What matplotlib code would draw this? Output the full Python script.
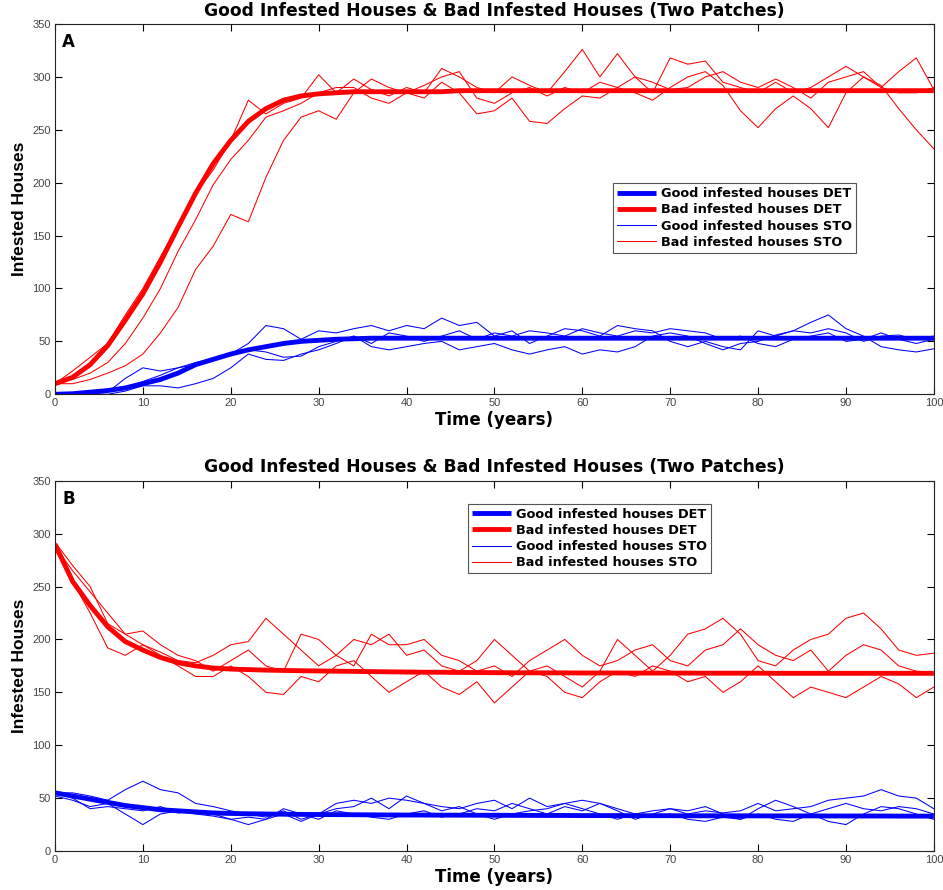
import numpy as np
import matplotlib
matplotlib.use("Agg")
import matplotlib.pyplot as plt

# time grid of the read-off points (years)
t = list(range(0, 101, 2))

# ---- Panel A ----
a_good_det = [0, 0.5, 2, 3.5, 6, 10, 14, 20, 28, 33, 38, 42, 45, 48, 50, 51, 52, 52.5, 53, 53, 53,
              53, 53, 53, 53, 53, 53, 53, 53, 53, 53, 53, 53, 53, 53, 53, 53, 53, 53, 53, 53,
              53, 53, 53, 53, 53, 53, 53, 53, 53, 53]
a_bad_det = [10, 16, 28, 46, 70, 95, 125, 158, 190, 218, 240, 258, 270, 278, 282, 284, 285, 286, 286, 286, 286,
             286, 286, 287, 287, 287, 287, 287, 287, 287, 287, 287, 287, 287, 287, 287, 287, 287, 287, 287, 287,
             287, 287, 287, 287, 287, 287, 287, 287, 287, 287]
a_good_sto = [
    [0, 0, 0, 2, 15, 25, 22, 25, 28, 32, 38, 48, 65, 62, 52, 60, 58, 62, 65, 60, 65,
     62, 72, 65, 68, 55, 60, 48, 55, 62, 60, 55, 65, 62, 60, 50, 45, 50, 45, 42, 60,
     55, 60, 68, 75, 62, 55, 45, 42, 40, 43],
    [0, 0, 0, 0, 3, 8, 8, 6, 10, 15, 25, 38, 33, 32, 38, 42, 48, 55, 45, 42, 45,
     48, 50, 42, 45, 48, 42, 38, 42, 45, 38, 42, 40, 45, 55, 58, 55, 48, 42, 48, 50,
     56, 60, 58, 62, 58, 50, 55, 56, 52, 55],
    [0, 0, 1, 3, 7, 12, 18, 25, 30, 33, 38, 42, 40, 35, 36, 45, 50, 55, 48, 58, 55,
     50, 55, 60, 52, 58, 55, 60, 58, 55, 62, 58, 55, 60, 58, 62, 60, 58, 52, 55, 48,
     45, 52, 55, 58, 50, 52, 58, 52, 48, 52],
]
a_bad_sto = [
    [10, 22, 35, 48, 75, 100, 130, 160, 190, 212, 240, 278, 265, 275, 280, 302, 285, 298, 288, 282, 290,
     285, 308, 300, 290, 285, 300, 292, 285, 305, 326, 300, 322, 300, 285, 318, 312, 315, 295, 290, 285,
     295, 285, 290, 300, 310, 300, 290, 305, 318, 288],
    [10, 14, 20, 30, 48, 72, 100, 135, 165, 198, 222, 240, 262, 268, 275, 285, 290, 290, 280, 275, 285,
     280, 295, 285, 265, 268, 280, 258, 256, 270, 282, 280, 290, 285, 278, 290, 300, 305, 292, 268, 252,
     270, 282, 270, 252, 285, 300, 292, 270, 250, 232],
    [10, 10, 14, 20, 27, 38, 58, 82, 118, 140, 170, 163, 205, 240, 262, 268, 260, 285, 298, 290, 285,
     292, 300, 305, 280, 275, 285, 290, 282, 290, 285, 295, 290, 300, 295, 288, 290, 300, 305, 295, 290,
     298, 290, 280, 295, 300, 305, 290, 285, 285, 290],
]

# ---- Panel B ----
b_good_det = [55, 52, 49, 46, 43, 41, 39, 38, 37, 36, 35.5, 35.2, 35, 34.8, 34.6, 34.5, 34.4, 34.3, 34.2, 34.1, 34,
              34, 33.9, 33.9, 33.8, 33.8, 33.7, 33.7, 33.6, 33.6, 33.5, 33.5, 33.5, 33.4, 33.4, 33.4, 33.3, 33.3, 33.3, 33.3, 33.2,
              33.2, 33.2, 33.2, 33.1, 33.1, 33.1, 33.1, 33, 33, 33]
b_bad_det = [290, 255, 232, 212, 198, 190, 183, 178, 175, 173, 172, 171.5, 171, 170.7, 170.4, 170.2, 170, 169.8, 169.6, 169.4, 169.2,
             169, 169, 168.8, 168.7, 168.6, 168.5, 168.5, 168.4, 168.4, 168.3, 168.3, 168.3, 168.2, 168.2, 168.2, 168.2, 168.1, 168.1, 168.1, 168.1,
             168, 168, 168, 168, 168, 168, 168, 168, 168, 168]
b_good_sto = [
    [55, 55, 52, 48, 58, 66, 58, 55, 45, 42, 38, 35, 32, 38, 30, 35, 45, 48, 45, 50, 48,
     45, 42, 40, 45, 48, 40, 50, 42, 45, 48, 45, 40, 35, 38, 40, 35, 38, 36, 38, 45,
     38, 40, 42, 48, 50, 52, 58, 52, 50, 40],
    [52, 48, 42, 45, 35, 25, 35, 38, 35, 33, 30, 25, 30, 35, 28, 35, 40, 42, 50, 40, 52,
     45, 38, 42, 35, 30, 35, 38, 40, 45, 40, 35, 30, 35, 32, 35, 30, 28, 32, 30, 35,
     30, 28, 35, 28, 25, 35, 42, 40, 35, 30],
    [55, 50, 40, 42, 40, 38, 42, 36, 38, 35, 30, 32, 30, 40, 35, 30, 38, 35, 32, 30, 35,
     38, 32, 35, 40, 38, 45, 40, 35, 42, 38, 45, 38, 30, 35, 40, 38, 42, 35, 30, 40,
     48, 42, 35, 40, 45, 40, 38, 42, 40, 35],
]
b_bad_sto = [
    [292, 270, 250, 215, 205, 195, 188, 180, 178, 185, 195, 198, 220, 205, 190, 175, 185, 200, 195, 205, 185,
     190, 175, 170, 180, 200, 185, 170, 175, 165, 155, 170, 200, 185, 170, 185, 205, 210, 220, 205, 180,
     175, 190, 200, 205, 220, 225, 210, 190, 185, 187],
    [285, 255, 225, 192, 185, 195, 185, 175, 165, 165, 175, 165, 150, 148, 165, 160, 175, 180, 165, 150, 160,
     170, 155, 148, 160, 140, 155, 170, 165, 150, 145, 160, 170, 165, 175, 170, 160, 165, 150, 160, 175,
     160, 145, 155, 150, 145, 155, 165, 158, 145, 155],
    [288, 265, 245, 225, 205, 208, 195, 185, 180, 170, 180, 190, 175, 170, 205, 200, 185, 175, 205, 195, 195,
     200, 185, 180, 170, 175, 165, 180, 190, 200, 185, 175, 180, 190, 195, 180, 175, 190, 195, 210, 195,
     185, 180, 190, 170, 185, 195, 190, 175, 170, 168],
]

TITLE = "Good Infested Houses & Bad Infested Houses (Two Patches)"
LABELS = ["Good infested houses DET", "Bad infested houses DET",
          "Good infested houses STO", "Bad infested houses STO"]
WIDE = ["DejaVu Sans"]


def draw_panel(ax, tag, good_det, bad_det, good_sto, bad_sto, leg_anchor):
    for y in good_sto:
        ax.plot(t, y, color="#0000ff", lw=0.75)
    for y in bad_sto:
        ax.plot(t, y, color="#ff0000", lw=0.75)
    h1, = ax.plot(t, good_det, color="#0000ff", lw=3.5, solid_capstyle="butt")
    h2, = ax.plot(t, bad_det, color="#ff0000", lw=3.5, solid_capstyle="butt")
    h3, = ax.plot([], [], color="#0000ff", lw=0.75)
    h4, = ax.plot([], [], color="#ff0000", lw=0.75)

    ax.set_xlim(0, 100)
    ax.set_ylim(0, 350)
    ax.set_xticks(range(0, 101, 10))
    ax.set_yticks(range(0, 351, 50))
    ax.tick_params(direction="in", top=True, right=True, length=5, width=0.8,
                   labelsize=8, labelcolor="#444444", pad=3)
    for s in ax.spines.values():
        s.set_linewidth(0.8)
        s.set_color("#222222")
    ax.set_title(TITLE, fontsize=12.3, fontweight="bold", pad=6, family=WIDE)
    ax.set_xlabel("Time (years)", fontsize=12, fontweight="bold", labelpad=2, family=WIDE)
    ax.set_ylabel("Infested Houses", fontsize=12.5, fontweight="bold", labelpad=4)
    ax.text(0.008, 0.975, tag, transform=ax.transAxes, fontsize=12,
            fontweight="bold", va="top", ha="left", family=WIDE)
    leg = ax.legend([h1, h2, h3, h4], LABELS, loc="upper left", bbox_to_anchor=leg_anchor,
                    borderaxespad=0, fancybox=False, framealpha=1, edgecolor="#555555",
                    prop={"weight": "bold", "size": 9.3, "family": "DejaVu Sans"},
                    handlelength=3.0, labelspacing=0.25, handletextpad=0.4, borderpad=0.3)
    leg.get_frame().set_linewidth(0.8)


plt.rcParams["font.family"] = ["Liberation Sans", "DejaVu Sans"]
fig = plt.figure(figsize=(9.43, 8.90), dpi=100)
axA = fig.add_axes([0.0583, 0.557, 0.932, 0.416])
axB = fig.add_axes([0.0583, 0.0438, 0.932, 0.416])

draw_panel(axA, "A", a_good_det, a_bad_det, a_good_sto, a_bad_sto, (0.635, 0.570))
draw_panel(axB, "B", b_good_det, b_bad_det, b_good_sto, b_bad_sto, (0.470, 0.938))

fig.savefig("out.png", dpi=100)
